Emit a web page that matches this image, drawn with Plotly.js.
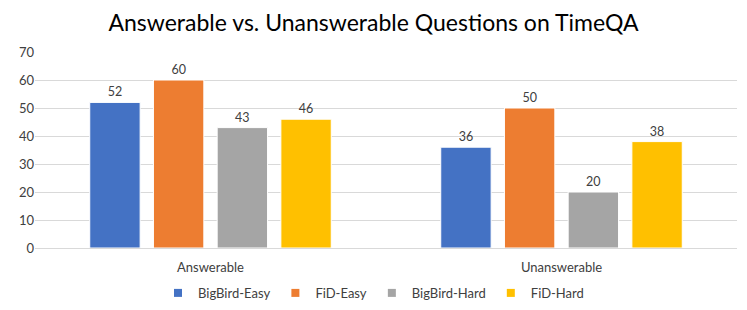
<!DOCTYPE html>
<html>
<head>
<meta charset="utf-8">
<script src="https://cdn.plot.ly/plotly-3.0.1.min.js"></script>
<style>html,body{margin:0;padding:0;background:#fff;}#chart{width:747px;height:310px;}</style>
</head>
<body>
<div id="chart"></div>
<script>
const categories = ["Answerable", "Unanswerable"];
const seriesNames = ["BigBird-Easy", "FiD-Easy", "BigBird-Hard", "FiD-Hard"];
const bigbirdEasy = [52, 36];
const fidEasy = [60, 50];
const bigbirdHard = [43, 20];
const fidHard = [46, 38];
const colors = ["#4472C4", "#ED7D31", "#A5A5A5", "#FFC000"];
const allValues = [bigbirdEasy, fidEasy, bigbirdHard, fidHard];

const font = "Lato, 'Open Sans', sans-serif";
const traces = allValues.map((vals, i) => ({
  type: "bar",
  name: seriesNames[i],
  x: categories,
  y: vals,
  text: vals.map(String),
  textposition: "outside",
  cliponaxis: false,
  textfont: {family: font, size: 12.5, color: "#404040"},
  marker: {color: colors[i], line: {color: "#ffffff", width: 1}},
  showlegend: false,
  hoverinfo: "x+y+name"
}));
// legend-only entries with small square symbols
seriesNames.forEach((name, i) => {
  traces.push({type: "scatter", mode: "markers", name: name, x: [null], y: [null],
    marker: {symbol: "square", size: 8, color: colors[i]}, showlegend: true, hoverinfo: "skip"});
});

const layout = {
  width: 747, height: 310,
  margin: {l: 35, r: 10, t: 52, b: 62},
  paper_bgcolor: "#fff", plot_bgcolor: "#fff",
  title: {text: "Answerable vs. Unanswerable Questions on TimeQA", x: 0.5, xanchor: "center", yref: "container", y: 0.925, yanchor: "middle",
          font: {family: font, size: 23, color: "#000"}},
  barmode: "group",
  bargap: 0.274,
  bargroupgap: 0.209,
  xaxis: {showgrid: false, showline: false, ticks: "", ticklabelstandoff: 10, automargin: false,
          tickfont: {family: font, size: 13, color: "#404040"}},
  yaxis: {range: [0, 70], dtick: 10, showgrid: true, gridcolor: "#D9D9D9", gridwidth: 1, automargin: false,
          zeroline: true, zerolinecolor: "#D9D9D9", zerolinewidth: 1, showline: false, ticks: "",
          tickfont: {family: font, size: 13, color: "#404040"}},
  legend: {orientation: "h", xref: "container", x: 0.5, xanchor: "center", yref: "container", y: 0.055, yanchor: "middle",
           font: {family: font, size: 13, color: "#404040"}, itemwidth: 30, traceorder: "normal",
           tracegroupgap: 0, bgcolor: "rgba(0,0,0,0)"},
  showlegend: true
};
Plotly.newPlot("chart", traces, layout, {displayModeBar: false, staticPlot: true});
</script>
</body>
</html>
